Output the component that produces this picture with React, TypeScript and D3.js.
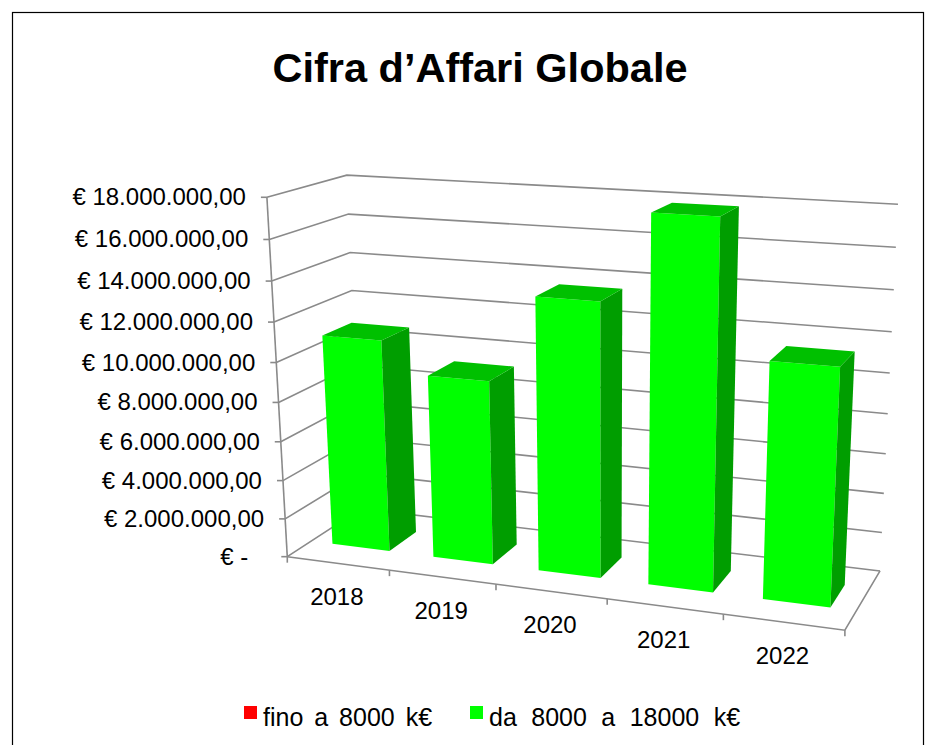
import React from "react";
import * as d3 from "d3";

const title = "Cifra d’Affari Globale";
const categories = ["2018", "2019", "2020", "2021", "2022"];
const seriesNames = ["fino a 8000 k€", "da 8000 a 18000 k€"];
const seriesColors = ["#ff0000", "#00ff00"];
const seriesLow: (number | null)[] = [null, null, null, null, null];
const seriesHigh: (number | null)[] = [10900000, 9350000, 13650000, 17900000, 11500000];
const yTicks = [0, 2000000, 4000000, 6000000, 8000000, 10000000, 12000000, 14000000, 16000000, 18000000];

// calibration of the 3D frame (world unit cube -> screen)
const frameCalib: [number, number, number, number, number][] = [
  [0, 0, 0, 287, 557],
  [0, 1, 0, 266.7, 197.7],
  [0, 1, 1, 347, 175],
  [1, 1, 1, 898, 204],
  [1, 0, 1, 880, 571],
  [1, 0, 0, 845, 630],
  [0, 1 / 9, 0, 285, 518],
  [1, 1 / 9, 1, 881.7, 532.7],
  [0.2, 0, 0, 390, 570.5],
];

const U0 = 580, V0 = 400, S = 300;

function solveCamera(pts: [number, number, number, number, number][]) {
  const n = 11;
  const M = Array.from({ length: n }, () => new Array(n + 1).fill(0));
  const rows: number[][] = [];
  const rhs: number[] = [];
  for (const [X, Y, Z, u0, v0] of pts) {
    const u = (u0 - U0) / S, v = (v0 - V0) / S;
    rows.push([X, Y, Z, 1, 0, 0, 0, 0, -u * X, -u * Y, -u * Z]); rhs.push(u);
    rows.push([0, 0, 0, 0, X, Y, Z, 1, -v * X, -v * Y, -v * Z]); rhs.push(v);
  }
  for (let r = 0; r < rows.length; r++) {
    for (let i = 0; i < n; i++) {
      for (let j = 0; j < n; j++) M[i][j] += rows[r][i] * rows[r][j];
      M[i][n] += rows[r][i] * rhs[r];
    }
  }
  for (let c = 0; c < n; c++) {
    let p = c;
    for (let r = c + 1; r < n; r++) if (Math.abs(M[r][c]) > Math.abs(M[p][c])) p = r;
    const t = M[c]; M[c] = M[p]; M[p] = t;
    for (let r = 0; r < n; r++) {
      if (r === c) continue;
      const f = M[r][c] / M[c][c];
      for (let k = c; k <= n; k++) M[r][k] -= f * M[c][k];
    }
  }
  return M.map((row, i) => row[n] / row[i]);
}

const itLocale = d3.formatLocale({ decimal: ",", thousands: ".", grouping: [3], currency: ["€ ", ""] });
const fmt = itLocale.format(",.2f");

export default function App() {
  const p = React.useMemo(() => solveCamera(frameCalib), []);
  const proj = (x: number, y: number, z: number): [number, number] => {
    const w = p[8] * x + p[9] * y + p[10] * z + 1;
    const u = (p[0] * x + p[1] * y + p[2] * z + p[3]) / w;
    const v = (p[4] * x + p[5] * y + p[6] * z + p[7]) / w;
    return [u * S + U0, v * S + V0];
  };

  const x = d3.scaleBand<string>().domain(categories).range([0, 1]).paddingInner(0.43).paddingOuter(0.215);
  const y = d3.scaleLinear().domain([0, 18000000]).range([0, 1]);
  // stacked series share one row in depth
  const z = d3.scaleBand<string>().domain(["stack"]).range([0, 1]).padding(0.444);
  const line = d3.line();
  const poly = (pts: [number, number][]) => line(pts) + "Z";

  const grid = "#8a8a8a";
  const font = "'Liberation Sans', Arial, sans-serif";

  const bars: JSX.Element[] = [];
  const z0 = z("stack")!, z1 = z0 + z.bandwidth();
  categories.forEach((c, i) => {
    let acc = 0;
    [seriesLow, seriesHigh].forEach((vals, s) => {
      const v = vals[i];
      if (v == null) return;
      const x0 = x(c)!, x1 = x0 + x.bandwidth();
      const b0 = y(acc), h = y(acc + v);
      acc += v;
      const base = d3.color(seriesColors[s])!;
      const front = poly([proj(x0, b0, z0), proj(x1, b0, z0), proj(x1, h, z0), proj(x0, h, z0)]);
      const side = poly([proj(x1, b0, z0), proj(x1, b0, z1), proj(x1, h, z1), proj(x1, h, z0)]);
      const top = poly([proj(x0, h, z0), proj(x1, h, z0), proj(x1, h, z1), proj(x0, h, z1)]);
      bars.push(
        <g key={`b${s}-${i}`}>
          <path d={front} fill={base.formatHex()} />
          <path d={side} fill={base.darker(1.35).formatHex()} />
          <path d={top} fill={base.darker(0.8).formatHex()} />
        </g>
      );
    });
  });

  return (
    <svg width={934} height={745} style={{ position: "absolute", left: 0, top: 0, background: "#fff" }} fontFamily={font}>
      <rect x={12.5} y={12.5} width={911} height={760} fill="#fff" stroke="#000" strokeWidth={1.2} />
      <text x={480} y={82} textAnchor="middle" fontSize={41.5} fontWeight="bold" fill="#000">{title}</text>

      {yTicks.map((t) => {
        const a = proj(0, y(t), 0), b = proj(0, y(t), 1), c = proj(1, y(t), 1);
        return <path key={`g${t}`} d={line([a, b, c])!} fill="none" stroke={grid} strokeWidth={1.6} />;
      })}
      <path d={line([proj(0, 0, 0), proj(0, 1, 0)])!} fill="none" stroke={grid} strokeWidth={1.6} />
      <path d={line([proj(0, 0, 0), proj(1, 0, 0), proj(1, 0, 1)])!} fill="none" stroke={grid} strokeWidth={1.6} />
      {yTicks.map((t) => {
        const a = proj(0, y(t), 0);
        return <line key={`yt${t}`} x1={a[0]} y1={a[1]} x2={a[0] - 6} y2={a[1]} stroke={grid} strokeWidth={1.6} />;
      })}
      {d3.range(categories.length + 1).map((k) => {
        const a = proj(k / categories.length, 0, 0);
        return <line key={`xt${k}`} x1={a[0]} y1={a[1]} x2={a[0]} y2={a[1] + 6} stroke={grid} strokeWidth={1.6} />;
      })}

      {bars}

      {yTicks.map((t) => {
        const a = proj(0, y(t), 0);
        const label = t === 0 ? "€ -" : "€ " + fmt(t);
        return (
          <text key={`yl${t}`} x={a[0] - 21 - (t === 0 ? 18 : 0)} y={a[1] + 8} textAnchor="end" fontSize={24} fill="#000">
            {label}
          </text>
        );
      })}
      {categories.map((c) => {
        const a = proj(x(c)! + x.bandwidth() / 2, 0, 0);
        return (
          <text key={`xl${c}`} x={a[0] - 1} y={a[1] + 42} textAnchor="middle" fontSize={24} fill="#000">{c}</text>
        );
      })}

      {seriesNames.map((s, i) => {
        const lx = i === 0 ? 244 : 470;
        return (
          <g key={`lg${i}`}>
            <rect x={lx} y={706} width={13} height={13} fill={seriesColors[i]} />
            <text x={lx + 19} y={726} fontSize={25} fill="#000" wordSpacing={i === 0 ? 4 : 7.5}>{s}</text>
          </g>
        );
      })}
    </svg>
  );
}
